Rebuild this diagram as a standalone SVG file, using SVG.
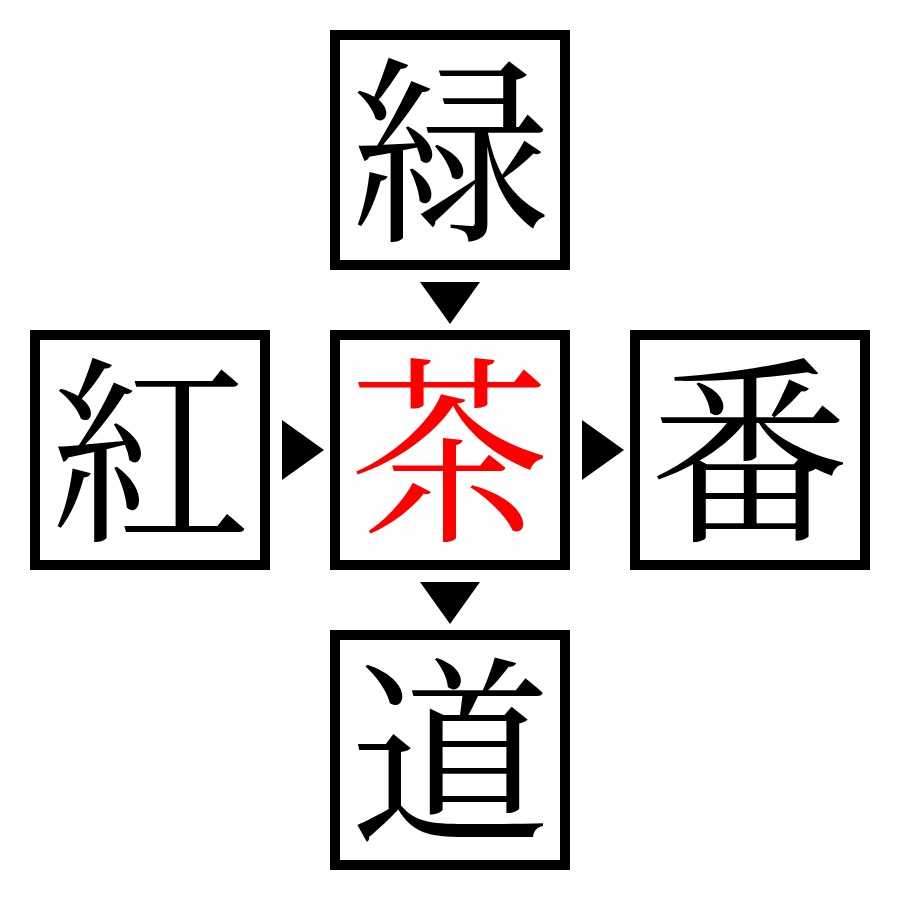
<svg xmlns="http://www.w3.org/2000/svg" width="900" height="900" viewBox="0 0 900 900">
<style>
.box rect{fill:#fff;stroke:#000;stroke-width:10}
.box text{font-family:"Noto Serif CJK JP","Noto Sans CJK JP",serif;font-size:200px;text-anchor:middle;fill:#000}
.box.center text{fill:#f00}
.arrows polygon{fill:#000}
</style>
<rect width="900" height="900" fill="#fff"/>
<g id="node-green" class="box"><rect x="335" y="35" width="230" height="230"/><text x="450" y="226">緑</text></g>
<g id="node-red" class="box"><rect x="35" y="335" width="230" height="230"/><text x="150" y="526">紅</text></g>
<g id="node-tea" class="box center"><rect x="335" y="335" width="230" height="230"/><text x="450" y="526">茶</text></g>
<g id="node-ban" class="box"><rect x="635" y="335" width="230" height="230"/><text x="750" y="526">番</text></g>
<g id="node-road" class="box"><rect x="335" y="635" width="230" height="230"/><text x="450" y="826">道</text></g>
<g id="connectors" class="arrows">
<polygon points="420,282 480,282 450,324"/>
<polygon points="282,420 282,480 324,450"/>
<polygon points="582,420 582,480 624,450"/>
<polygon points="420,582 480,582 450,624"/>
</g>
</svg>
